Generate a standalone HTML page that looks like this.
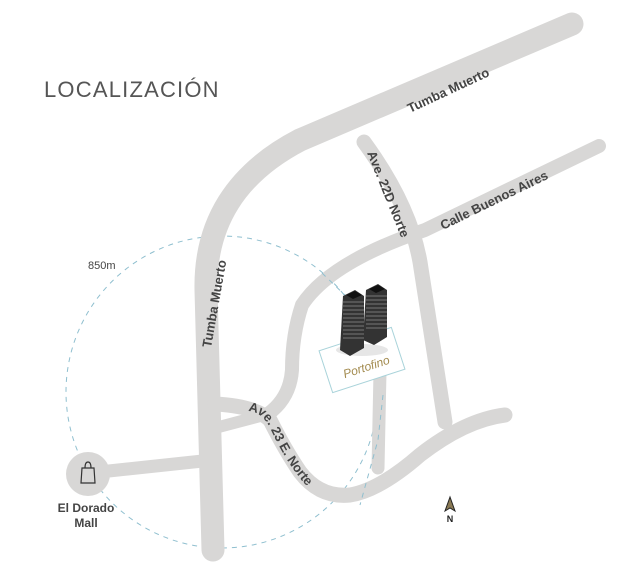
<!DOCTYPE html>
<html><head><meta charset="utf-8"><style>
html,body{margin:0;padding:0;background:#fff}
svg{display:block}
text{font-family:"Liberation Sans",sans-serif}
</style></head><body>
<svg width="630" height="576" viewBox="0 0 630 576" xmlns="http://www.w3.org/2000/svg">
<rect width="630" height="576" fill="#fff"/>
<text x="44" y="97" font-size="22" fill="#555" letter-spacing="1.2">LOCALIZACIÓN</text>
<circle cx="222" cy="392" r="156" fill="none" stroke="#8fbfcf" stroke-width="1" stroke-dasharray="5,5"/>
<g fill="none" stroke="#d8d7d6" stroke-linecap="round" stroke-linejoin="round">
  <path d="M213,550 L206,290 Q204,190 300,140 L572,24" stroke-width="23"/>
  <path d="M364,142 Q410,205 420,262 L445,422" stroke-width="15"/>
  <path d="M599,146 L425,230 Q330,262 302,305 Q292,335 292,370 Q290,398 268,414" stroke-width="14"/>
  <path d="M215,404 Q255,406 270,420 Q285,450 300,472 Q320,498 350,495 Q380,490 420,455 Q465,420 505,415" stroke-width="15"/>
  <path d="M215,428 Q245,420 268,414" stroke-width="12"/>
  <path d="M380,372 L378,468" stroke-width="13"/>
  <path d="M90,473 L212,460" stroke-width="13"/>
</g>
<path d="M322,273 L350,300 M383,395 L378,440 L360,505" stroke="#8fbfcf" stroke-dasharray="5,5" fill="none"/>
<text font-size="13" font-weight="bold" fill="#444" transform="translate(410,113) rotate(-25)">Tumba Muerto</text>
<text font-size="13" font-weight="bold" fill="#444" transform="translate(211,348) rotate(-80)">Tumba Muerto</text>
<text font-size="13" font-weight="bold" fill="#444" transform="translate(367,153) rotate(68)">Ave. 22D Norte</text>
<text font-size="13" font-weight="bold" fill="#444" transform="translate(443,230) rotate(-26)">Calle Buenos Aires</text>
<path id="a23" d="M248,411 Q262,412 270,428 Q285,460 300,478 Q305,485 312,490" fill="none"/>
<text font-size="13" font-weight="bold" fill="#444"><textPath href="#a23">Ave. 23 E. Norte</textPath></text>
<text x="88" y="269" font-size="11" fill="#444">850m</text>
<circle cx="88" cy="474" r="22" fill="#d8d7d6"/>
<path d="M82,468 L94,468 L95,483 L81,483 Z M85,468 Q85,462 88,462 Q91,462 91,468" fill="none" stroke="#333" stroke-width="1.2"/>
<text x="86" y="512" font-size="12" font-weight="bold" fill="#444" text-anchor="middle">El Dorado</text>
<text x="86" y="527" font-size="12" font-weight="bold" fill="#444" text-anchor="middle">Mall</text>
<g transform="translate(362,360) rotate(-18)">
  <rect x="-38" y="-22" width="76" height="44" fill="#fff" stroke="#a9d3da" stroke-width="1"/>
  <text x="2" y="12" font-size="12" font-style="italic" font-family="Liberation Serif" fill="#a38b4f" text-anchor="middle">Portofino</text>
</g>
<ellipse cx="362" cy="350" rx="26" ry="6" fill="#e6e6e6"/>
<g>
  <polygon points="343,296 355,290 364,296 364,348 350,356 340,350" fill="#333"/>
  <polygon points="366,290 378,284 387,290 387,337 374,345 363,340" fill="#333"/>
  <g stroke="#777" stroke-width="1">
    <path d="M343,302 H364 M343,306 H364 M343,310 H364 M343,314 H364 M343,318 H364 M343,322 H364 M343,326 H364 M343,330 H364 M343,334 H364 M343,338 H364"/>
    <path d="M366,296 H387 M366,300 H387 M366,304 H387 M366,308 H387 M366,312 H387 M366,316 H387 M366,320 H387 M366,324 H387 M366,328 H387"/>
  </g>
  <polygon points="346,295 355,291 362,295 353,299" fill="#111"/>
  <polygon points="369,289 378,285 385,289 376,293" fill="#111"/>
</g>
<polygon points="450,497 445,511 450,508 455,511" fill="#8a7a55" stroke="#222" stroke-width="1"/>
<text x="450" y="522" font-size="9" font-weight="bold" fill="#222" text-anchor="middle">N</text>
</svg>
</body></html>
